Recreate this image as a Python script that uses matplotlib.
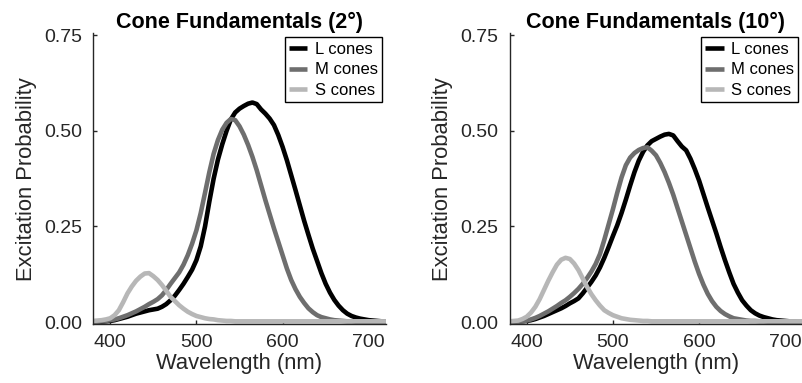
import matplotlib
matplotlib.use("Agg")
import matplotlib.pyplot as plt

plt.rcParams['font.family'] = ['Liberation Sans', 'DejaVu Sans']

wavelength = list(range(380, 721, 5))

# 2 degree fundamentals (5 nm steps)
l_cones_2 = [0.000, 0.000, 0.001, 0.002, 0.003, 0.005, 0.008, 0.011, 0.014, 0.018,
             0.022, 0.025, 0.028, 0.031, 0.033, 0.035, 0.040, 0.047, 0.057, 0.069,
             0.084, 0.100, 0.118, 0.137, 0.162, 0.198, 0.250, 0.315, 0.375, 0.425,
             0.465, 0.500, 0.530, 0.548, 0.558, 0.565, 0.571, 0.574, 0.570, 0.556,
             0.545, 0.532, 0.515, 0.489, 0.458, 0.423, 0.384, 0.345, 0.305, 0.265,
             0.228, 0.192, 0.160, 0.128, 0.100, 0.077, 0.058, 0.043, 0.031, 0.022,
             0.016, 0.012, 0.009, 0.007, 0.005, 0.004, 0.003, 0.002, 0.002]
m_cones_2 = [0.001, 0.001, 0.002, 0.003, 0.005, 0.007, 0.010, 0.014, 0.018, 0.023,
             0.028, 0.034, 0.040, 0.047, 0.053, 0.060, 0.070, 0.084, 0.100, 0.115,
             0.130, 0.150, 0.175, 0.205, 0.240, 0.285, 0.338, 0.392, 0.440, 0.476,
             0.503, 0.521, 0.531, 0.528, 0.512, 0.490, 0.463, 0.432, 0.397, 0.358,
             0.319, 0.282, 0.245, 0.210, 0.175, 0.140, 0.110, 0.086, 0.066, 0.050,
             0.036, 0.026, 0.018, 0.013, 0.010, 0.007, 0.005, 0.004, 0.003, 0.002,
             0.002, 0.001, 0.001, 0.001, 0.001, 0.000, 0.000, 0.000, 0.000]
s_cones_2 = [0.003, 0.004, 0.005, 0.007, 0.010, 0.018, 0.031, 0.052, 0.075, 0.093,
             0.108, 0.119, 0.127, 0.128, 0.120, 0.110, 0.097, 0.082, 0.066, 0.055,
             0.044, 0.035, 0.027, 0.021, 0.016, 0.013, 0.010, 0.008, 0.007, 0.005,
             0.004, 0.003, 0.003, 0.002, 0.002, 0.002, 0.002, 0.002, 0.002, 0.002,
             0.002, 0.002, 0.002, 0.002, 0.002, 0.002, 0.002, 0.002, 0.002, 0.002,
             0.002, 0.002, 0.002, 0.002, 0.002, 0.002, 0.002, 0.002, 0.002, 0.002,
             0.002, 0.002, 0.002, 0.002, 0.002, 0.002, 0.002, 0.002, 0.002]

# 10 degree fundamentals (5 nm steps)
l_cones_10 = [0.000, 0.000, 0.001, 0.002, 0.003, 0.005, 0.008, 0.012, 0.016, 0.021,
              0.026, 0.031, 0.036, 0.042, 0.049, 0.055, 0.062, 0.075, 0.090, 0.105,
              0.122, 0.143, 0.168, 0.196, 0.225, 0.253, 0.285, 0.320, 0.357, 0.392,
              0.422, 0.445, 0.462, 0.473, 0.479, 0.485, 0.490, 0.492, 0.488, 0.473,
              0.459, 0.449, 0.427, 0.400, 0.370, 0.335, 0.300, 0.266, 0.232, 0.196,
              0.162, 0.130, 0.100, 0.077, 0.057, 0.043, 0.031, 0.023, 0.017, 0.013,
              0.010, 0.007, 0.005, 0.004, 0.003, 0.002, 0.002, 0.001, 0.001]
m_cones_10 = [0.000, 0.000, 0.001, 0.002, 0.004, 0.007, 0.011, 0.016, 0.022, 0.028,
              0.035, 0.042, 0.050, 0.057, 0.066, 0.076, 0.087, 0.100, 0.115, 0.132,
              0.152, 0.178, 0.215, 0.255, 0.295, 0.338, 0.378, 0.410, 0.430, 0.442,
              0.450, 0.455, 0.457, 0.448, 0.436, 0.416, 0.392, 0.364, 0.333, 0.298,
              0.263, 0.228, 0.193, 0.158, 0.126, 0.098, 0.074, 0.055, 0.040, 0.029,
              0.021, 0.015, 0.010, 0.008, 0.006, 0.004, 0.003, 0.003, 0.002, 0.002,
              0.001, 0.001, 0.001, 0.000, 0.000, 0.000, 0.000, 0.000, 0.000]
s_cones_10 = [0.002, 0.003, 0.004, 0.008, 0.014, 0.025, 0.040, 0.060, 0.084, 0.108,
              0.130, 0.150, 0.163, 0.168, 0.165, 0.153, 0.136, 0.114, 0.092, 0.073,
              0.057, 0.043, 0.031, 0.024, 0.018, 0.014, 0.010, 0.008, 0.006, 0.005,
              0.004, 0.003, 0.003, 0.002, 0.002, 0.002, 0.002, 0.002, 0.002, 0.002,
              0.002, 0.002, 0.002, 0.002, 0.002, 0.002, 0.002, 0.002, 0.002, 0.002,
              0.002, 0.002, 0.002, 0.002, 0.002, 0.002, 0.002, 0.002, 0.002, 0.002,
              0.002, 0.002, 0.002, 0.002, 0.002, 0.002, 0.002, 0.002, 0.002]

series_labels = ["L cones", "M cones", "S cones"]
titles = ["Cone Fundamentals (2°)", "Cone Fundamentals (10°)"]
x_ticks = [400, 500, 600, 700]
y_ticks = [0.0, 0.25, 0.5, 0.75]

colors = ["#000000", "#6e6e6e", "#b7b7b7"]
axis_col = "#262626"

W, H = 802, 383
fig = plt.figure(figsize=(W / 100, H / 100), dpi=100)

positions = [(93, 33.3, 293, 290.7), (509.5, 33.3, 293, 290.7)]
datasets = [(l_cones_2, m_cones_2, s_cones_2), (l_cones_10, m_cones_10, s_cones_10)]

for (x0, y0, w, h), data, title in zip(positions, datasets, titles):
    ax = fig.add_axes([x0 / W, 1 - (y0 + h) / H, w / W, h / H])
    for vals, c, lab in zip(data, colors, series_labels):
        ax.plot(wavelength, vals, color=c, lw=3.3, label=lab,
                solid_joinstyle='round', solid_capstyle='butt')
    ax.set_xlim(380, 720)
    ax.set_ylim(-0.005, 0.755)
    ax.set_xticks(x_ticks)
    ax.set_yticks(y_ticks)
    ax.set_yticklabels([f"{v:.2f}" for v in y_ticks])
    for s in ["top", "right"]:
        ax.spines[s].set_visible(False)
    for s in ["left", "bottom"]:
        ax.spines[s].set_color(axis_col)
        ax.spines[s].set_linewidth(1.0)
    ax.tick_params(direction='in', length=3, width=1, colors=axis_col,
                   labelsize=14, labelcolor=axis_col)
    ax.tick_params(axis='y', pad=8)
    ax.tick_params(axis='x', pad=7)
    ax.set_xlabel("Wavelength (nm)", fontsize=15.8, color=axis_col, labelpad=2)
    ax.set_ylabel("Excitation Probability", fontsize=15.8, color=axis_col, labelpad=5)
    ax.set_title(title, fontsize=15.5, fontweight='bold', pad=3)
    leg = ax.legend(loc='upper right', fontsize=12, frameon=True, fancybox=False,
                    framealpha=1, edgecolor='black', handlelength=1.1,
                    handletextpad=0.45, borderpad=0.25, labelspacing=0.35,
                    borderaxespad=0.25)
    leg.get_frame().set_linewidth(1.0)

fig.savefig("out.png", dpi=100)
